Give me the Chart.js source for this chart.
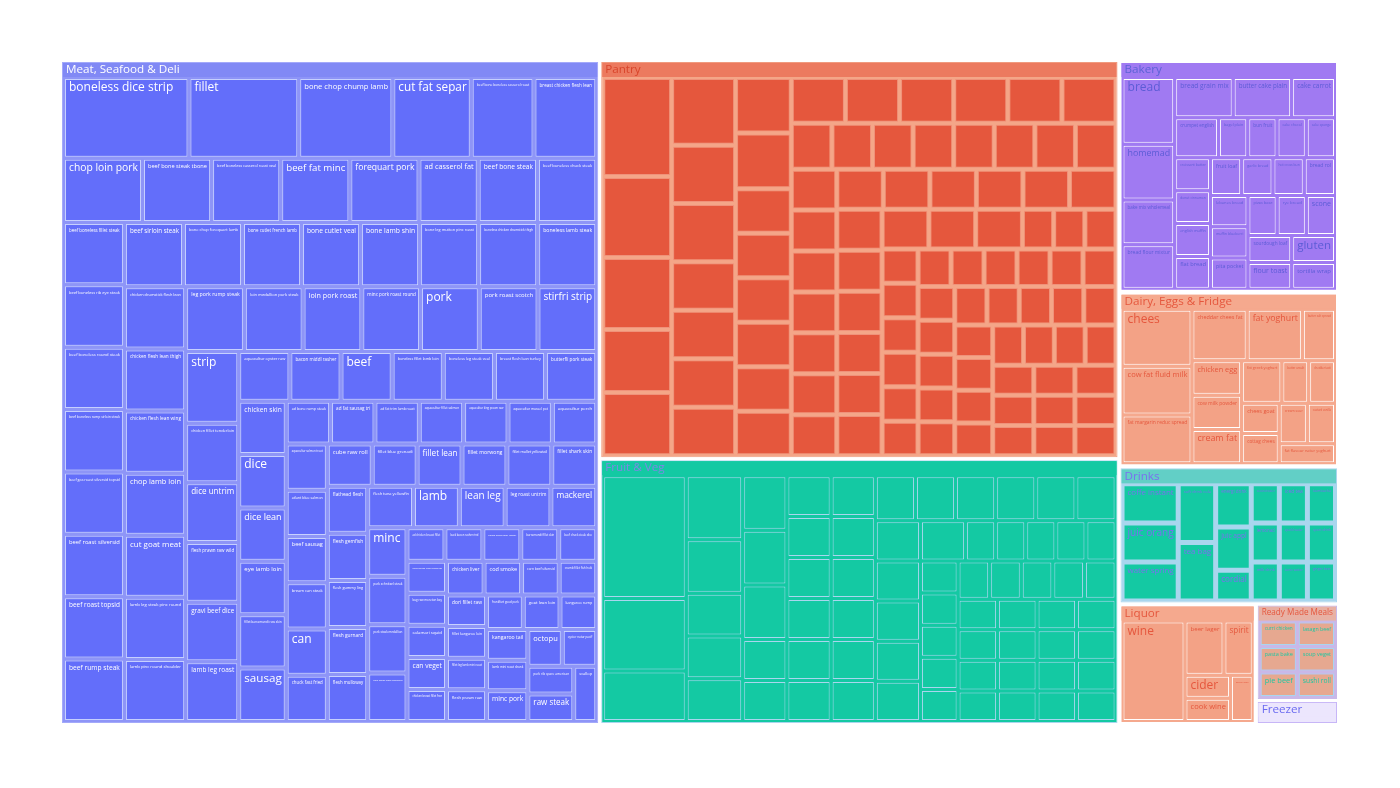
<!DOCTYPE html>
<html>
<head>
<meta charset="utf-8">
<script src="https://cdn.jsdelivr.net/npm/chart.js@4.4.1/dist/chart.umd.min.js"></script>
<style>
html,body{margin:0;padding:0;background:#ffffff;}
#c{display:block;}
</style>
</head>
<body>
<canvas id="c" width="1400" height="788"></canvas>
<script>
// ---------------- DATA ----------------
const groupNames = ['Meat, Seafood & Deli','Pantry','Fruit & Veg','Bakery','Dairy, Eggs & Fridge','Drinks','Liquor','Ready Made Meals','Freezer'];

const meatLabels = [
'boneless dice strip','fillet','bone chop chump lamb','cut fat separ','beef bone boneless casserol roast','breast chicken flesh lean',
'chop loin pork','beef bone steak tbone','beef boneless casserol roast veal','beef fat minc','forequart pork','ad casserol fat','beef bone steak','beef boneless chuck steak',
'beef boneless fillet steak','beef boneless rib eye steak','beef boneless round steak','beef boneless rump sirloin steak','beef gas roast silversid topsid','beef roast silversid','beef roast topsid','beef rump steak',
'beef sirloin steak','bone chop forequart lamb','bone cutlet french lamb','bone cutlet veal','bone lamb shin','bone leg mutton pinc roast','boneless chicken drumstick thigh','boneless lamb steak',
'chicken drumstick flesh lean','chicken flesh lean thigh','chicken flesh lean wing','chop lamb loin','cut goat meat','lamb leg steak pinc round','lamb pinc round shoulder',
'leg pork rump steak','loin medallion pork steak','loin pork roast','minc pork roast round','pork','pork roast scotch','stirfri strip',
'strip','chicken fillet tenderloin','dice untrim','flesh prawn raw wild','gravi beef dice','lamb leg roast',
'aquacultur oyster raw','bacon middl rasher','beef','boneless fillet lamb loin','boneless leg steak veal','breast flesh lean turkey','butterfli pork steak',
'chicken skin','dice','dice lean','eye lamb loin','fillet barramundi raw skin','sausag',
'ad bone rump steak','ad fat sausag tri','ad fat trim lamb roast','aquacultur fillet salmon','aquacultur king prawn raw','aquacultur mussel pot','aquacultur perch',
'aquacultur salmon trout','atlant blue salmon','beef sausag','bream can steak','can','chuck fast fried',
'cube raw roll','fillet blue grenadi','fillet lean','fillet morwong','fillet mullet yellowtail','fillet shark skin',
'flathead flesh','flesh gemfish','flesh gummy ling','flesh gurnard','flesh mulloway',
'flesh tuna yellowfin','lamb','lean leg','leg roast untrim','mackerel',
'minc','pork schnitzel steak','pork steak medallion','rack cutlet lamb frenched',
'ad chicken breast fillet','back bacon rasher rind','bacon middl short rasher','barramundi fillet skin','beef chuck steak dice',
'beef mince lean premium','bug raw moreton bay','calamari squid','can veget','chicken breast fillet free',
'chicken liver','cod smoke','corn beef silversid','crumb fillet fish hoki',
'dori fillet raw','fillet kangaroo loin','fillet leg lamb mini roast','flesh prawn raw',
'frankfurt good pork','goat lean loin','kangaroo rump',
'kangaroo tail','lamb mini roast shank','minc pork',
'octopu','oyster natur pacif',
'pork rib spare american','raw steak','scallop'
];
const meatValues = [
16,14,12,10,8,8,8,7,7,7,
7,6,6,6,6,6,6,6,6,6,
6,6,6,6,6,6,6,6,6,6,
6,6,6,6,6,6,6,6,6,6,
6,6,6,6,6,5,5,5,5,5,
4,4,4,4,4,4,4,4,4,4,
4,4,4,3,3,3,3,3,3,3,
3,3,3,3,3,3,3,3,3,3,
3,3,3,3,3,3,3,3,3,3,
3,3,3,3,3,3,2,2,2,2,
2,2,2,2,2,2,2,2,2,2,
2,2,2,2,2,2,2,2,2,2,
2,2,2,2,2
];

const pantryValues = [
11,9,8,7,7,7,6,6,5,5,
5,5,5,5,4,4,4,4,4,4,
4,4,4,4,4,4,3,3,3,3,
3,3,3,3,3,3,3,3,3,3,
3,3,3,3,3,3,3,3,3,3,
3,3,3,3,3,3,2,2,2,2,
2,2,2,2,2,2,2,2,2,2,
2,2,2,2,2,2,2,2,2,2,
2,2,2,2,2,2,2,2,2,2,
2,2,2,2,2,2,2,2
];

const fruitValues = [
17,10,7,6,5,4,4,4,4,4,
4,3,3,3,3,3,3,3,3,3,
3,3,3,3,3,3,3,3,3,3,
3,3,3,3,3,3,3,2,2,2,
2,2,2,2,2,2,2,2,2,2,
2,2,2,2,2,2,2,2,2,2,
2,2,2,2,2,2,2,2
];

const bakeryLabels = ['bread','homemad','bake mix wholemeal','bread flour mixtur','bread grain mix','butter cake plain','cake carrot',
'crumpet english','bagel plain','bun fruit','cake chocol','cake sponge','croissant butter','donut cinnamon','english muffin','flat bread',
'fruit loaf','garlic bread','hot cross bun','bread rol','lebanes bread','muffin blueberri','pita pocket','pizza base','rye bread','scone',
'sourdough loaf','flour toast','gluten','tortilla wrap'];
const bakeryValues = [6,5,4,4,4,4,3,3,2,2, 2,2,2,2,2,2,2,2,2,2, 2,2,2,2,2,2,2,2,2,2];

const dairyLabels = ['chees','cow fat fluid milk','fat margarin reduc spread','cheddar chees fat','fat yoghurt','butter salt spread',
'chicken egg','cow milk powder','cream fat','fat greek yoghurt','butter unsalt','cheddar tasti','chees goat','cottag chees',
'cream sour','custard vanilla','fat flavour natur yoghurt'];
const dairyValues = [7,6,6,5,5,3,3,3,3,3,2,2,2,2,2,2,2];

const drinksLabels = ['coffe instant','juic orang','water spring','soft drink cola','tea bag','energi drink','juic appl','cordial',
'coconut water','iced tea','kombucha','lemonad','milk drink','sparkl water','sport drink','tonic water','ginger beer'];
const drinksValues = [4,4,4,4,4,2.8,2.8,2,2,2,2,2,2,2,2,2,2];

const liquorLabels = ['wine','beer lager','spirit','cider','cook wine','sparkl wine'];
const liquorValues = [12,4,3,2,2,2];

const readyLabels = ['curri chicken','lasagn beef','pasta bake','pie beef','soup veget','sushi roll'];
const readyValues = [2,2,2,2,2,2];

const freezerLabels = ['ice cream'];
const freezerValues = [3];

// ---------------- STYLES (kept apart from data) ----------------
const groupStyles = [
  {fill:'#636EFA', line:'#C6D0FF', gap:'#8E95F7', band:'#8189F5', edge:'#A3A9FA', text:'#FFFFFF', head:'#FFFFFF'},
  {fill:'#E5573D', line:'#F0927A', gap:'#F4A688', band:'#EC7A5F', edge:'#F09A7E', text:null,      head:'#D8452B'},
  {fill:'#14C9A3', line:'#A9D6EE', gap:'#14C9A3', band:'#14C9A3', edge:'#A9D6EE', text:null,      head:'#7C88E4'},
  {fill:'#A07AF2', line:'#FFFFFF', gap:'#A07AF2', band:'#A07AF2', edge:'#FFFFFF', text:'#5C5CD6', head:'#5C63D6'},
  {fill:'#F3A286', line:'#FFFFFF', gap:'#F5A98E', band:'#F5A98E', edge:'#FFFFFF', text:'#E5573D', head:'#E5573D'},
  {fill:'#14C9A3', line:'#A9D6EE', gap:'#A9D6EE', band:'#62CFC6', edge:'#A9D6EE', text:'#7B6FEF', head:'#7B6FEF'},
  {fill:'#F3A286', line:'#FFFFFF', gap:'#F5A98E', band:'#F5A98E', edge:'#FFFFFF', text:'#E5573D', head:'#E5573D'},
  {fill:'#E6A890', line:'#A9D6EE', gap:'#C9B8E8', band:'#E8B1A4', edge:'#C9B8E8', text:'#1FC7A2', head:'#E5573D'},
  {fill:'#ECE6FD', line:'#C7B6F7', gap:'#ECE6FD', band:'#ECE6FD', edge:'#C7B6F7', text:'#6A6AF0', head:'#6A6AF0'}
];
const FONT = '"Open Sans", "Liberation Sans", sans-serif';

// ---------------- build nodes ----------------
const groupLeaves = [
  [meatLabels, meatValues], [[], pantryValues], [[], fruitValues], [bakeryLabels, bakeryValues],
  [dairyLabels, dairyValues], [drinksLabels, drinksValues], [liquorLabels, liquorValues],
  [readyLabels, readyValues], [freezerLabels, freezerValues]
];
const nodes = [];
groupNames.forEach((name, g) => {
  const vals = groupLeaves[g][1];
  nodes.push({kind:'group', g, label:name, value: vals.reduce((a,b)=>a+b,0)});
});
groupNames.forEach((name, g) => {
  const [labs, vals] = groupLeaves[g];
  vals.forEach((v, k) => nodes.push({kind:'leaf', g, label: labs[k] || '', value: v}));
});

// ---------------- squarified treemap (d3-style, ratio 1) ----------------
function squarify(items, x0, y0, x1, y1) {
  let value = items.reduce((a, b) => a + b.value, 0);
  let i0 = 0, i1 = 0; const n = items.length;
  while (i0 < n) {
    const dx = x1 - x0, dy = y1 - y0;
    let sumValue = items[i1++].value;
    let minValue = sumValue, maxValue = sumValue;
    const alpha = Math.max(dy / dx, dx / dy) / value;
    let beta = sumValue * sumValue * alpha;
    let minRatio = Math.max(maxValue / beta, beta / minValue);
    for (; i1 < n; ++i1) {
      const nv = items[i1].value;
      sumValue += nv;
      if (nv < minValue) minValue = nv;
      if (nv > maxValue) maxValue = nv;
      beta = sumValue * sumValue * alpha;
      const newRatio = Math.max(maxValue / beta, beta / minValue);
      if (newRatio > minRatio) { sumValue -= nv; break; }
      minRatio = newRatio;
    }
    const row = items.slice(i0, i1);
    if (dx < dy) {
      const yb = value ? y0 + dy * sumValue / value : y1;
      let x = x0; const k = (x1 - x0) / sumValue;
      row.forEach(it => { it.x0 = x; x += it.value * k; it.x1 = x; it.y0 = y0; it.y1 = yb; });
      y0 = yb;
    } else {
      const xb = value ? x0 + dx * sumValue / value : x1;
      let y = y0; const k = (y1 - y0) / sumValue;
      row.forEach(it => { it.y0 = y; y += it.value * k; it.y1 = y; it.x0 = x0; it.x1 = xb; });
      x0 = xb;
    }
    value -= sumValue; i0 = i1;
  }
}
function inset(r, p) {
  let x0 = r.x0 + p, x1 = r.x1 - p, y0 = r.y0 + p, y1 = r.y1 - p;
  if (x1 < x0) x0 = x1 = (x0 + x1) / 2;
  if (y1 < y0) y0 = y1 = (y0 + y1) / 2;
  return {x0, y0, x1, y1};
}
const TILE = {rootPad: 2, inner: 3, top: 17, left: 3, right: 3, bottom: 3};
function computeLayout(data, X0, Y0, X1, Y1) {
  const out = new Array(data.length);
  const h = TILE.inner / 2;
  const groups = [], kids = {};
  data.forEach((d, i) => {
    if (d.kind === 'group') groups.push({i, value: d.value});
    else (kids[d.g] = kids[d.g] || []).push({i, value: d.value});
  });
  squarify(groups, X0 + TILE.rootPad - h, Y0 + TILE.rootPad - h, X1 - TILE.rootPad + h, Y1 - TILE.rootPad + h);
  groups.forEach(gr => {
    const r = inset(gr, h);
    out[gr.i] = r;
    const list = kids[data[gr.i].g] || [];
    let cx0 = r.x0 + TILE.left - h, cy0 = r.y0 + TILE.top - h, cx1 = r.x1 - TILE.right + h, cy1 = r.y1 - TILE.bottom + h;
    if (cx1 < cx0) cx0 = cx1 = (cx0 + cx1) / 2;
    if (cy1 < cy0) cy0 = cy1 = (cy0 + cy1) / 2;
    squarify(list, cx0, cy0, cx1, cy1);
    list.forEach(it => { out[it.i] = inset(it, h); });
  });
  return out;
}

// ---------------- Chart.js controller ----------------
class TreemapController extends Chart.DatasetController {
  parse() { this._cachedMeta._parsed = this.getDataset().data; }
  update(mode) {
    const meta = this._cachedMeta;
    this.updateElements(meta.data, 0, meta.data.length, mode);
  }
  updateElements(elems, start, count, mode) {
    const meta = this._cachedMeta;
    const xs = meta.xScale, ys = meta.yScale;
    const data = this.getDataset().data;
    const rects = computeLayout(data, xs.min, ys.min, xs.max, ys.max);
    this._cells = this._cells || [];
    for (let i = start; i < start + count; i++) {
      const r = rects[i];
      const l = xs.getPixelForValue(r.x0), rr = xs.getPixelForValue(r.x1);
      const t = ys.getPixelForValue(r.y0), b = ys.getPixelForValue(r.y1);
      const w = rr - l, hh = b - t;
      const props = {
        x: (l + rr) / 2, y: t, base: b, width: w, height: hh,
        horizontal: false, inflateAmount: 0, borderSkipped: {}, enableBorderRadius: false,
        options: this.resolveDataElementOptions(i, mode)
      };
      this.updateElement(elems[i], i, props, mode);
      const tiny = data[i].kind === 'leaf' && (w < 3 || hh < 3);
      elems[i].hidden = tiny || !isFinite(w) || !isFinite(hh);
      this._cells[i] = tiny ? null : {l, t, w, h: hh, node: data[i]};
    }
  }
}
TreemapController.id = 'treemap';
TreemapController.defaults = {datasetElementType: false, dataElementType: 'bar'};
Chart.register(TreemapController);

function drawLabel(ctx, text, x, y, maxW, maxH, color, maxSize) {
  if (!text || maxW < 2 || maxH < 2) return;
  ctx.font = maxSize + 'px ' + FONT;
  const tw = ctx.measureText(text).width;
  let s = maxSize * Math.min(1, maxW / tw);
  s = Math.min(s, maxH / 1.2);
  if (s < 2) return;
  ctx.font = s.toFixed(2) + 'px ' + FONT;
  ctx.fillStyle = color;
  ctx.fillText(text, x, y + (maxSize - s) * 0.15);
}

const labelPlugin = {
  id: 'treemapLabels',
  afterDatasetsDraw(chart) {
    const ctrl = chart.getDatasetMeta(0).controller;
    const cells = ctrl._cells || [];
    const ctx = chart.ctx;
    ctx.save();
    ctx.textBaseline = 'top';
    ctx.textAlign = 'left';
    cells.forEach(c => {
      if (!c || !isFinite(c.l)) return;
      const st = groupStyles[c.node.g];
      if (c.node.kind === 'group') {
        const bh = Math.max(0, Math.min(c.h - 2, 14));
        ctx.fillStyle = st.band;
        ctx.fillRect(c.l + 1, c.t + 1, c.w - 2, bh);
        drawLabel(ctx, c.node.label, c.l + 4, c.t + 2, c.w - 8, 14, st.head, 12);
      } else if (st.text) {
        drawLabel(ctx, c.node.label, c.l + 4, c.t + 3, c.w - 7, c.h - 5, st.text, 12);
      }
    });
    ctx.restore();
  }
};

new Chart(document.getElementById('c').getContext('2d'), {
  type: 'treemap',
  data: {
    datasets: [{
      data: nodes,
      parsing: false,
      backgroundColor: c => c.raw ? (c.raw.kind === 'group' ? groupStyles[c.raw.g].gap : groupStyles[c.raw.g].fill) : '#ccc',
      borderColor: c => c.raw ? (c.raw.kind === 'group' ? groupStyles[c.raw.g].edge : groupStyles[c.raw.g].line) : '#fff',
      borderWidth: 1,
      borderRadius: 0
    }]
  },
  options: {
    responsive: false,
    animation: false,
    devicePixelRatio: 1,
    events: [],
    layout: {padding: {left: 60, right: 61, top: 60, bottom: 63}},
    scales: {
      x: {type: 'linear', min: 0, max: 1279, display: false},
      y: {type: 'linear', min: 0, max: 665, reverse: true, display: false}
    },
    plugins: {legend: {display: false}, tooltip: {enabled: false}}
  },
  plugins: [labelPlugin]
});
</script>
</body>
</html>
